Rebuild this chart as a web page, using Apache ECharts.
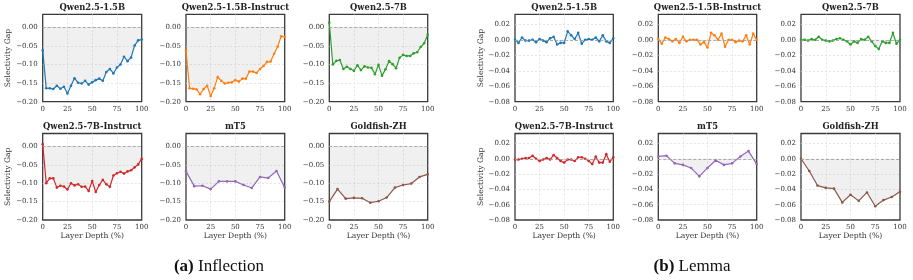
<!DOCTYPE html>
<html>
<head>
<meta charset="utf-8">
<script src="https://cdn.jsdelivr.net/npm/echarts@6/dist/echarts.min.js"></script>
<style>
  html, body { margin: 0; padding: 0; background: #fff; }
  #chart { width: 913px; height: 280px; }
</style>
</head>
<body>
<div id="chart"></div>
<script>
// models and colours (one panel per model, per task)
const models = ['Qwen2.5-1.5B', 'Qwen2.5-1.5B-Instruct', 'Qwen2.5-7B', 'Qwen2.5-7B-Instruct', 'mT5', 'Goldfish-ZH'];
const colors = ['#1f77b4', '#ff7f0e', '#2ca02c', '#d62728', '#9467bd', '#8c564b'];
const xTicks = [0, 25, 50, 75, 100];

// (a) Inflection - selectivity gap per layer
const inflQwen15 = [-0.062, -0.164, -0.164, -0.166, -0.157, -0.165, -0.160, -0.178, -0.157, -0.137, -0.149, -0.151, -0.144, -0.154, -0.148,
  -0.142, -0.138, -0.144, -0.120, -0.112, -0.124, -0.108, -0.100, -0.079, -0.091, -0.081, -0.049, -0.035, -0.033];
const inflQwen15Inst = [-0.062, -0.164, -0.165, -0.167, -0.180, -0.166, -0.157, -0.185, -0.164, -0.134, -0.144, -0.151, -0.149, -0.148, -0.142,
  -0.146, -0.138, -0.138, -0.119, -0.119, -0.123, -0.112, -0.104, -0.093, -0.092, -0.071, -0.052, -0.024, -0.026];
const inflQwen7 = [0.012, -0.100, -0.090, -0.088, -0.112, -0.106, -0.112, -0.117, -0.102, -0.115, -0.105, -0.108, -0.109, -0.126, -0.101,
  -0.130, -0.113, -0.091, -0.099, -0.110, -0.082, -0.074, -0.077, -0.077, -0.070, -0.067, -0.053, -0.043, -0.020];
const inflQwen7Inst = [0.006, -0.100, -0.087, -0.087, -0.112, -0.107, -0.109, -0.117, -0.100, -0.106, -0.103, -0.110, -0.109, -0.121, -0.094,
  -0.124, -0.105, -0.091, -0.103, -0.110, -0.079, -0.073, -0.069, -0.074, -0.068, -0.065, -0.057, -0.049, -0.034];
const inflMT5 = [-0.068, -0.108, -0.107, -0.116, -0.095, -0.095, -0.095, -0.105, -0.113, -0.083, -0.086, -0.067, -0.112];
const inflGoldfish = [-0.150, -0.116, -0.142, -0.140, -0.141, -0.153, -0.149, -0.139, -0.112, -0.105, -0.101, -0.083, -0.076];

// (b) Lemma - selectivity gap per layer
const lemQwen15 = [0.000, -0.004, 0.003, -0.001, -0.001, 0.000, -0.003, 0.001, -0.001, -0.003, 0.002, 0.004, -0.006, -0.004, -0.004,
  0.011, 0.006, 0.001, 0.009, -0.005, 0.000, 0.001, 0.000, 0.003, -0.002, 0.006, -0.002, -0.004, 0.002];
const lemQwen15Inst = [0.001, -0.005, 0.003, 0.001, -0.002, 0.001, -0.004, 0.004, -0.002, 0.000, 0.000, 0.000, -0.006, -0.003, -0.010,
  0.009, 0.006, 0.000, 0.008, -0.009, 0.000, 0.000, -0.003, -0.001, -0.002, 0.006, -0.006, 0.008, 0.000];
const lemQwen7 = [0.000, 0.000, -0.001, 0.001, 0.000, 0.004, 0.000, -0.001, -0.002, -0.001, 0.001, 0.002, 0.000, -0.002, -0.006,
  -0.002, -0.004, 0.001, 0.000, 0.004, -0.002, -0.008, -0.012, -0.002, -0.004, -0.004, 0.009, -0.005, 0.000];
const lemQwen7Inst = [-0.001, -0.001, 0.000, 0.001, 0.001, 0.004, 0.000, -0.003, -0.001, 0.001, -0.001, 0.005, 0.001, -0.003, -0.005,
  -0.001, -0.001, -0.003, 0.002, 0.002, 0.000, -0.003, -0.007, 0.003, -0.005, -0.005, 0.006, -0.004, 0.002];
const lemMT5 = [0.003, 0.004, -0.006, -0.008, -0.012, -0.023, -0.012, -0.002, -0.008, -0.006, 0.003, 0.010, -0.007];
const lemGoldfish = [0.000, -0.016, -0.035, -0.038, -0.039, -0.057, -0.047, -0.055, -0.044, -0.062, -0.054, -0.050, -0.043];

const inflection = [inflQwen15, inflQwen15Inst, inflQwen7, inflQwen7Inst, inflMT5, inflGoldfish];
const lemma = [lemQwen15, lemQwen15Inst, lemQwen7, lemQwen7Inst, lemMT5, lemGoldfish];

const chart = echarts.init(document.getElementById('chart'), null, { renderer: 'canvas' });

const serif = 'DejaVu Serif';
const colLeft = [42.7, 186, 329.3, 515, 658.3, 801];
const colWidth = [99, 98.7, 98.4, 98.3, 98.4, 99];
const rowTop = [14.3, 133.5];
const rowHeight = [87.4, 86.5];

function fmtY(v) {
  if (Math.abs(v) < 1e-9) return '0.00';
  return v.toFixed(2).replace('-', '\u2212');
}

const grids = [], xAxes = [], yAxes = [], series = [], titles = [];
const gridLine = { show: true, showMinLine: false, showMaxLine: false, lineStyle: { type: [2, 2], color: '#dcdcdc', width: 0.7 } };

[inflection, lemma].forEach((group, g) => {
  const yMin = g === 0 ? -0.2 : -0.08;
  const yMax = g === 0 ? 0.035 : 0.033;
  const yInt = g === 0 ? 0.05 : 0.02;
  group.forEach((vals, m) => {
    const row = Math.floor(m / 3);
    const col = g * 3 + (m % 3);
    const idx = grids.length;
    grids.push({
      left: colLeft[col], top: rowTop[row], width: colWidth[col], height: rowHeight[row],
      show: true, borderColor: '#3a3a3a', borderWidth: 1.3, backgroundColor: '#fff', containLabel: false
    });
    xAxes.push({
      type: 'value', gridIndex: idx, min: 0, max: 100, interval: 25,
      axisLine: { show: false }, axisTick: { show: false },
      axisLabel: { fontFamily: serif, fontSize: 7, color: '#333', margin: 4 },
      splitLine: gridLine,
      name: row === 1 ? 'Layer Depth (%)' : '', nameLocation: 'middle', nameGap: 12,
      nameTextStyle: { fontFamily: serif, fontSize: 7.6, color: '#333' }
    });
    yAxes.push({
      type: 'value', gridIndex: idx, min: yMin, max: yMax, interval: yInt,
      axisLine: { show: false }, axisTick: { show: false },
      axisLabel: { fontFamily: serif, fontSize: 7, color: '#333', margin: 5, showMaxLabel: false, formatter: fmtY },
      splitLine: gridLine,
      name: m % 3 === 0 ? 'Selectivity Gap' : '', nameLocation: 'middle', nameGap: 28,
      nameTextStyle: { fontFamily: serif, fontSize: 7.6, color: '#333' }
    });
    series.push({
      type: 'line', xAxisIndex: idx, yAxisIndex: idx,
      data: vals.map((v, i) => [i / (vals.length - 1) * 100, v]),
      symbol: 'circle', symbolSize: 2.6, showSymbol: true,
      lineStyle: { color: colors[m], width: 1.2 },
      itemStyle: { color: colors[m] },
      areaStyle: { origin: 0, color: 'rgba(128,128,128,0.17)' },
      markLine: {
        silent: true, symbol: 'none', label: { show: false },
        lineStyle: { type: [3, 2], color: '#9a9a9a', width: 0.8 },
        data: [{ yAxis: 0 }]
      },
      animation: false
    });
    titles.push({
      text: models[m], left: colLeft[col] + colWidth[col] / 2, top: rowTop[row] - 10.5, textAlign: 'center', padding: 0,
      textStyle: { fontFamily: serif, fontWeight: 'bold', fontSize: 8.4, color: '#222' }
    });
  });
});

// sub-captions
const capStyle = {
  fontFamily: 'Liberation Serif', fontWeight: 'normal', fontSize: 17, color: '#111',
  rich: {
    b: { fontFamily: 'Liberation Serif', fontWeight: 'bold', fontSize: 17, color: '#111' },
    n: { fontFamily: 'Liberation Serif', fontWeight: 'normal', fontSize: 17, color: '#111' }
  }
};
titles.push({ text: '{b|(a)}{n| Inflection}', left: 219, top: 258, textAlign: 'center', padding: 0, textStyle: capStyle });
titles.push({ text: '{b|(b)}{n| Lemma}', left: 692, top: 258, textAlign: 'center', padding: 0, textStyle: capStyle });

chart.setOption({
  animation: false,
  title: titles,
  grid: grids,
  xAxis: xAxes,
  yAxis: yAxes,
  series: series
});
</script>
</body>
</html>
